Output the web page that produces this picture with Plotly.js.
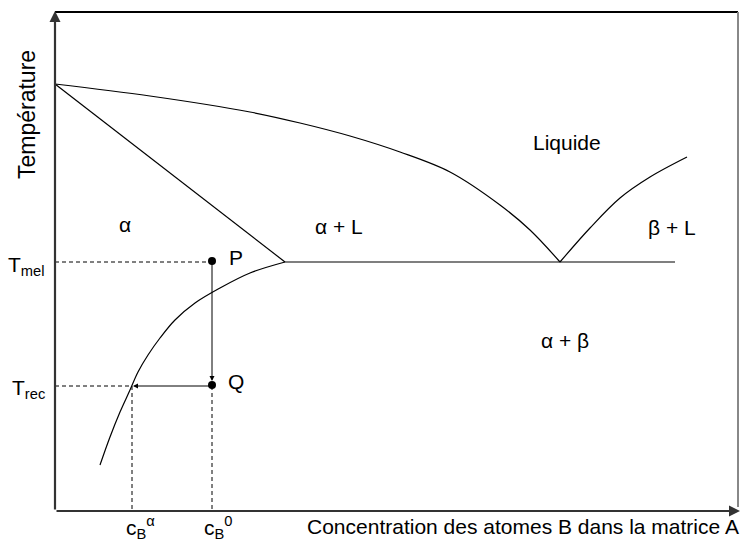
<!DOCTYPE html>
<html>
<head>
<meta charset="utf-8">
<script src="https://cdn.plot.ly/plotly-3.0.1.min.js"></script>
<style>html,body{margin:0;padding:0;background:#fff}#chart{width:742px;height:547px}</style>
</head>
<body>
<div id="chart"></div>
<script>
// Schematic phase diagram (concentration units along x, temperature units along y)
const liquidusLeftX = [0, 95, 195, 245, 295, 345, 395, 445, 475, 505];
const liquidusLeftY = [427, 415, 399, 388, 375, 359, 339, 306, 281, 249];
const solidusX = [0, 230];
const solidusY = [427, 249];
const solvusX = [230, 195, 165, 140, 120, 105, 93, 83, 75, 65, 55, 45];
const solvusY = [249, 238, 223, 208, 191, 173, 156, 139, 121, 99, 74, 46];
const eutecticX = [230, 620];
const eutecticY = [249, 249];
const liquidusRightX = [505, 535, 565, 595, 632];
const liquidusRightY = [249, 283, 313, 334, 354];

const axisMaxX = 685, axisMaxY = 499;
const Tmel = 249, Trec = 125;
const cB0 = 157, cBalpha = 77;
const pointNames = ['P', 'Q'];
const pointX = [cB0, cB0];
const pointY = [Tmel + 1, Trec + 1];

const regionLabels = ['α', 'α + L', 'Liquide', 'β + L', 'α + β'];
const regionX = [70, 284, 512, 617, 510];
const regionY = [287, 285, 369, 284, 171];

const font = {family: 'Liberation Sans, Arial, sans-serif', size: 21, color: '#000'};
const line = (x, y, extra) => Object.assign({type: 'scatter', mode: 'lines', x: x, y: y,
  line: {color: '#000', width: 1.2, shape: 'spline', smoothing: 1}, hoverinfo: 'skip', showlegend: false}, extra || {});
const dashed = {color: '#000', width: 1, dash: '4px,3px'};

const traces = [
  line(liquidusLeftX, liquidusLeftY),
  line(solidusX, solidusY),
  line(solvusX, solvusY),
  line(eutecticX, eutecticY),
  line(liquidusRightX, liquidusRightY),
  line([0, cB0], [Tmel, Tmel], {line: dashed}),
  line([0, cBalpha], [Trec, Trec], {line: dashed}),
  line([cBalpha, cBalpha], [Trec, 0], {line: dashed}),
  line([cB0, cB0], [Trec, 0], {line: dashed}),
  line([0, axisMaxX - 2], [axisMaxY, axisMaxY], {line: {color: '#000', width: 2}}),
  line([axisMaxX - 2, axisMaxX - 2], [axisMaxY, 4], {line: {color: '#888', width: 2}}),
  {type: 'scatter', mode: 'markers', x: pointX, y: pointY, marker: {color: '#000', size: 8},
   hoverinfo: 'skip', showlegend: false}
];

const arrow = (x, y, ax, ay, w, c) => ({x: x, y: y, ax: ax, ay: ay, xref: 'x', yref: 'y',
  axref: 'x', ayref: 'y', text: '', showarrow: true, arrowhead: 2, arrowsize: 1,
  arrowwidth: w, arrowcolor: c});
const txt = (t, x, y, extra) => Object.assign({x: x, y: y, xref: 'x', yref: 'y', text: t,
  showarrow: false, font: font}, extra || {});

const annotations = [
  arrow(0, axisMaxY + 1, 0, 0, 2.2, '#333'),
  arrow(axisMaxX, 0, 0, 0, 2.2, '#333'),
  arrow(cB0, Trec + 5, cB0, Tmel, 1, '#000'),
  arrow(cBalpha + 1, Trec, cB0, Trec, 1, '#000'),
  txt('Température', -28, 396, {textangle: -90, font: Object.assign({}, font, {size: 23})}),
  txt('T<sub>mel</sub>', -8, 245, {xanchor: 'right'}),
  txt('T<sub>rec</sub>', -8, 122, {xanchor: 'right'}),
  txt('c<sub>B</sub><sup>α</sup>', 85, -16),
  txt('c<sub>B</sub><sup>0</sup>', 163, -16),
  txt('Concentration des atomes B dans la matrice A', axisMaxX + 1, -15, {xanchor: 'right'})
];
pointNames.forEach((n, i) => annotations.push(txt(n, pointX[i] + 24, pointY[i] + 4)));
regionLabels.forEach((n, i) => annotations.push(txt(n, regionX[i], regionY[i])));

const layout = {
  width: 742, height: 547,
  margin: {l: 0, r: 0, t: 0, b: 0},
  paper_bgcolor: '#fff', plot_bgcolor: '#fff',
  xaxis: {range: [-55, 687], visible: false, fixedrange: true},
  yaxis: {range: [-36, 511], visible: false, fixedrange: true},
  annotations: annotations,
  font: font,
  showlegend: false
};
Plotly.newPlot('chart', traces, layout, {staticPlot: true});
</script>
</body>
</html>
